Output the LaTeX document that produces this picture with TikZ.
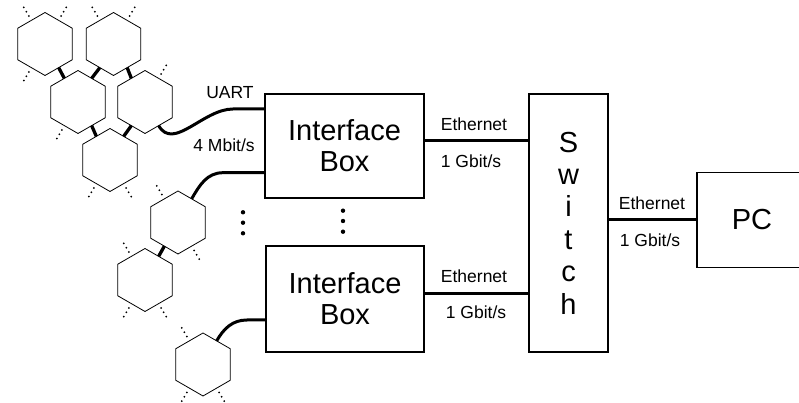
\documentclass[tikz,border=0pt]{standalone}
\usepackage{fontspec}
\setmainfont{Liberation Sans}
\usetikzlibrary{shapes.geometric}

\begin{document}
\begin{tikzpicture}[x=1pt,y=1pt,
  hex/.style={regular polygon, regular polygon sides=6, shape border rotate=30,
    minimum size=63pt, inner sep=0pt, outer sep=0pt, draw, line width=0.8pt},
  block/.style={draw, line width=1.6pt, inner sep=0pt, outer sep=0pt,
    align=center, font=\fontsize{29}{31}\selectfont},
  rate/.style={font=\fontsize{17.5}{20}\selectfont, inner sep=0pt},
  link/.style={line width=3.3pt},
  cable/.style={line width=3pt},
  eth/.style={line width=3pt},
  stub/.style={line width=2pt, line cap=round, dash pattern=on 0pt off 5pt}]
\useasboundingbox (0,0) rectangle (799,403);
\clip (0,0) rectangle (799,403);

\node[hex] (h1) at (45,359) {};
\node[hex] (h2) at (113.5,359) {};
\node[hex] (h3) at (78,301) {};
\node[hex] (h4) at (145,301) {};
\node[hex] (h5) at (110,243) {};

\node[hex] (h6) at (178,180.5) {};
\node[hex] (h7) at (145,123) {};
\node[hex] (h8) at (203,38.5) {};

\node[block, minimum width=159pt, minimum height=104pt] (ib1) at (344.5,257) {Interface\\Box};
\node[block, minimum width=158pt, minimum height=106pt] (ib2) at (345,104) {Interface\\Box};
\node[block, minimum width=79pt, minimum height=258pt,
  font=\fontsize{29}{32.4}\selectfont] (sw) at (568.5,180) {S\\w\\i\\t\\c\\h};
\node[block, minimum width=110pt, minimum height=95pt] (pc) at (752,183) {PC};

\node[rate] (uart) at (230,310) {UART};
\node[rate] (mbit) at (224,257.5) {4 Mbit/s};
\node[rate] (eth1) at (474,279) {Ethernet};
\node[rate] (gb1) at (471,242) {1 Gbit/s};
\node[rate] (eth2) at (474,126.3) {Ethernet};
\node[rate] (gb2) at (476,90.3) {1 Gbit/s};
\node[rate] (eth3) at (652,200) {Ethernet};
\node[rate] (gb3) at (650,163) {1 Gbit/s};

\draw[link]
     (h1.-60) -- (h3.120)
     (h2.-120) -- (h3.60)
     (h2.-60) -- (h4.120)
     (h3.-60) -- (h5.120)
     (h4.-120) -- (h5.60)
     (h6.-120) -- (h7.60) ;

\foreach \h/\a in {h1/120, h1/60, h1/-120, h2/120, h2/60, h3/-120, h4/60,
                   h5/-120, h5/-60, h6/120, h6/-60, h7/120, h7/-120, h7/-60,
                   h8/120, h8/-120, h8/-60}
  \draw[stub] (\h.\a) ++(\a:5) -- ++(\a:11);

\coordinate (c1) at (233,294);
\coordinate (c2) at (223,230.3);
\coordinate (c3) at (247,83);
\draw[cable] (h4.-60) to[out=-60,in=180] (c1) -- (c1 -| ib1.west);
\draw[cable] (h6.60) to[out=60,in=180] (c2) -- (c2 -| ib1.west);
\draw[cable] (h8.60) to[out=60,in=180] (c3) -- (c3 -| ib2.west);

\coordinate (e1) at ([yshift=5pt]ib1.east);
\coordinate (e2) at ([yshift=5.7pt]ib2.east);
\draw[eth]
     (e1) -- (e1 -| sw.west)
     (e2) -- (e2 -| sw.west)
     (pc.west) -- (pc.west -| sw.east) ;

\foreach \y in {190.7,180.3,169.7}
  \fill (243,\y) circle (2.2pt);
\foreach \y in {192.3,182,171.3}
  \fill (343,\y) circle (2.2pt);
\end{tikzpicture}
\end{document}
